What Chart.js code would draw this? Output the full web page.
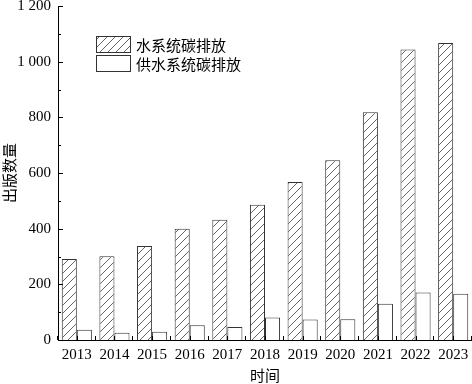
<!DOCTYPE html>
<html><head><meta charset="utf-8">
<script src="https://cdn.jsdelivr.net/npm/chart.js@4"></script>
<style>html,body{margin:0;padding:0;background:#fff}#wrap{width:472px;height:384px}</style>
</head><body><div id="wrap"><canvas id="c" width="472" height="384"></canvas></div>
<script>
const years = ['2013','2014','2015','2016','2017','2018','2019','2020','2021','2022','2023'];
const waterSystem = [291, 301, 338, 400, 432, 486, 568, 646, 818, 1044, 1067];
const waterSupply = [37, 26, 30, 53, 47, 81, 74, 75, 130, 171, 166];
const seriesLabels = ['水系统碳排放', '供水系统碳排放'];
const yMin = 0, yMax = 1200, yStep = 200, yMinorStep = 100;
const xTitle = '时间', yTitle = '出版数量';

const CJK = '"Noto Sans CJK SC", sans-serif';
const SERIF = '"Liberation Serif", "DejaVu Serif", serif';

function makeHatch() {
  const c = document.createElement('canvas');
  c.width = 8; c.height = 8;
  const g = c.getContext('2d');
  g.fillStyle = '#fff'; g.fillRect(0, 0, 8, 8);
  g.strokeStyle = '#555'; g.lineWidth = 0.9;
  g.beginPath();
  g.moveTo(0, 8); g.lineTo(8, 0);
  g.moveTo(-4, 4); g.lineTo(4, -4);
  g.moveTo(4, 12); g.lineTo(12, 4);
  g.stroke();
  return g.createPattern(c, 'repeat');
}
const ctx0 = document.getElementById('c').getContext('2d');
const hatch = makeHatch();

function fmt(v) {
  if (v >= 1000) return Math.floor(v / 1000) + ' ' + String(v % 1000).padStart(3, '0');
  return String(v);
}

const extras = {
  id: 'extras',
  afterDraw(chart) {
    const ctx = chart.ctx;
    const y = chart.scales.y, x = chart.scales.x;
    ctx.save();
    ctx.strokeStyle = '#000'; ctx.lineWidth = 1;
    ctx.beginPath();
    for (let v = yMin; v <= yMax; v += yMinorStep) {
      const py = Math.round(y.getPixelForValue(v)) + 0.5;
      const len = (v % yStep === 0) ? 5 : 3;
      ctx.moveTo(x.left, py); ctx.lineTo(x.left + len, py);
    }
    const n = years.length, w = (x.right - x.left) / n;
    for (let i = 0; i <= n; i++) {
      const px = Math.round(x.left + i * w) - 0.5;
      ctx.moveTo(px, y.bottom); ctx.lineTo(px, y.bottom - 4);
    }
    for (let i = 0; i < n; i++) {
      const px = Math.round(x.getPixelForValue(i)) + 0.5;
      ctx.moveTo(px, y.bottom); ctx.lineTo(px, y.bottom - 4);
    }
    ctx.stroke();

    // legend
    const fills = [hatch, '#fff'];
    const boxes = [[96, 36], [96, 55]];
    ctx.font = '15px ' + CJK;
    ctx.textBaseline = 'middle';
    ctx.textAlign = 'left';
    for (let i = 0; i < 2; i++) {
      const [bx, by] = boxes[i];
      ctx.fillStyle = fills[i];
      ctx.fillRect(bx, by, 34, 16);
      ctx.strokeStyle = '#333';
      ctx.strokeRect(bx + 0.5, by + 0.5, 34, 16);
      ctx.fillStyle = '#000';
      ctx.fillText(seriesLabels[i], bx + 40, by + 9);
    }
    ctx.restore();
  }
};

new Chart(document.getElementById('c'), {
  type: 'bar',
  data: {
    labels: years,
    datasets: [
      { label: seriesLabels[0], data: waterSystem, backgroundColor: hatch, borderColor: '#333', borderWidth: 1, barPercentage: 1, categoryPercentage: 0.8 },
      { label: seriesLabels[1], data: waterSupply, backgroundColor: '#fff', borderColor: '#333', borderWidth: 1, barPercentage: 1, categoryPercentage: 0.8 }
    ]
  },
  options: {
    responsive: false,
    animation: false,
    devicePixelRatio: 1,
    layout: { padding: { top: 0, right: 0, left: 0, bottom: 0 } },
    plugins: { legend: { display: false }, tooltip: { enabled: false } },
    scales: {
      x: {
        offset: true,
        grid: { display: false, drawTicks: false },
        border: { display: true, color: '#000', width: 1 },
        ticks: { font: { family: SERIF, size: 15 }, color: '#000', padding: 6, maxRotation: 0, autoSkip: false },
        title: { display: true, text: xTitle, font: { family: CJK, size: 15 }, color: '#000', padding: { top: 0, bottom: 0 } },
        afterFit(s) { s.height = 44; s.paddingLeft = 0; s.paddingRight = 0; }
      },
      y: {
        min: yMin, max: yMax,
        grid: { display: false, drawTicks: false },
        border: { display: true, color: '#000', width: 1 },
        ticks: { stepSize: yStep, font: { family: SERIF, size: 15 }, color: '#000', padding: 7, callback: v => fmt(v) },
        title: { display: true, text: yTitle, font: { family: CJK, size: 15 }, color: '#000', padding: 0 },
        afterFit(s) { s.width = 58; s.paddingTop = 6; s.paddingBottom = 0; }
      }
    }
  },
  plugins: [extras]
});
</script></body></html>
